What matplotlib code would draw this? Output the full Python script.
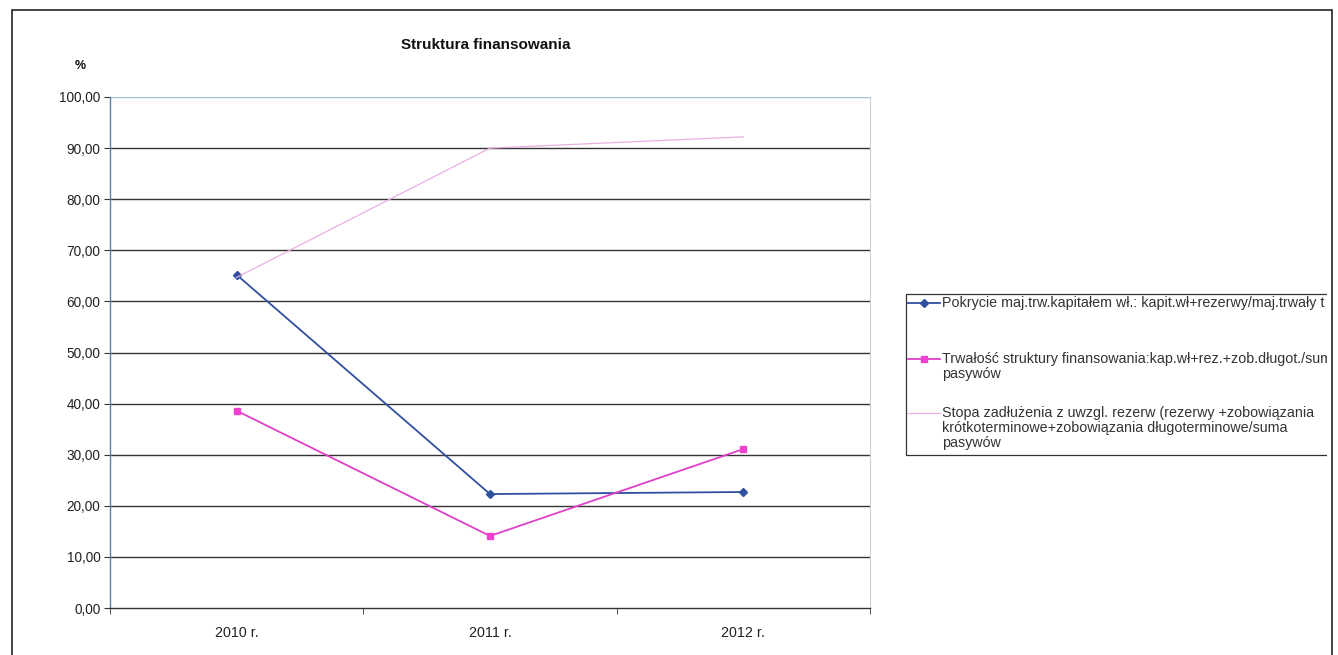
import matplotlib
matplotlib.use("Agg")
import matplotlib.pyplot as plt
from matplotlib.lines import Line2D
from matplotlib.patches import Rectangle
from matplotlib.transforms import Bbox, TransformedBbox

plt.rcParams['font.family'] = ['Liberation Sans', 'DejaVu Sans']

years = ["2010 r.", "2011 r.", "2012 r."]
pokrycie = [65.2, 22.3, 22.7]
trwalosc = [38.6, 14.1, 31.1]
stopa = [64.7, 90.0, 92.2]

labels = [
    "Pokrycie maj.trw.kapitałem wł.: kapit.wł+rezerwy/maj.trwały t",
    "Trwałość struktury finansowania:kap.wł+rez.+zob.długot./suma\npasywów",
    "Stopa zadłużenia z uwzgl. rezerw (rezerwy +zobowiązania\n"
    "krótkoterminowe+zobowiązania długoterminowe/suma\npasywów",
]
y_ticks = [0, 10, 20, 30, 40, 50, 60, 70, 80, 90, 100]

W, H = 1338, 655
fig = plt.figure(figsize=(W / 100, H / 100), dpi=100)
ax = fig.add_axes([110 / W, 1 - 608 / H, 760 / W, 511 / H])

line_styles = [
    dict(color="#2f4f9f", lw=1.3),
    dict(color="#e040c8", lw=1.3),
    dict(color="#eab0e4", lw=0.9),
]
marker_styles = [
    dict(marker="D", ms=4, mfc="#2f4f9f", mec="#2f4f9f"),
    dict(marker="s", ms=5, mfc="#f040d0", mec="#f040d0"),
    None,
]

x = list(range(len(years)))
for series, ls, ms in zip([pokrycie, trwalosc, stopa], line_styles, marker_styles):
    ax.plot(x, series, **ls, **(ms or {}))

ax.set_xlim(-0.5, 2.5)
ax.set_ylim(0, 100)
ax.set_yticks(y_ticks)
ax.set_yticklabels([f"{v:.2f}".replace(".", ",") for v in y_ticks],
                   fontsize=9.8, color="#222222")
ax.set_xticks(x)
ax.set_xticklabels(years, fontsize=10.3, color="#222222")
ax.set_xticks([-0.5, 0.5, 1.5, 2.5], minor=True)
ax.tick_params(axis="x", which="major", length=0, pad=13)
ax.tick_params(axis="x", which="minor", length=4, color="#333333")
ax.tick_params(axis="y", length=4, color="#333333", pad=3)

for v in y_ticks[1:-1]:
    ax.axhline(v, color="#333333", lw=1.0, zorder=0)
ax.axhline(100, color="#9ec4e0", lw=1.0, zorder=0)

ax.spines["top"].set_visible(False)
ax.spines["right"].set_color("#d0d0d0")
ax.spines["right"].set_linewidth(0.8)
ax.spines["left"].set_color("#5a80b0")
ax.spines["left"].set_linewidth(1.0)
ax.spines["bottom"].set_color("#333333")
ax.spines["bottom"].set_linewidth(1.0)

fig.text(486 / W, 1 - 45 / H, "Struktura finansowania", ha="center",
         va="center", fontsize=11, fontweight="bold", color="#111111")
fig.text(80 / W, 1 - 66 / H, "%", ha="center", va="center",
         fontsize=9, fontweight="bold", color="#111111")

# outer chart frame
frame = Rectangle((12 / W, -0.02), 1320 / W, 1 - 10 / H + 0.02,
                  transform=fig.transFigure, fill=False, ec="#222222", lw=1.2)
fig.patches.append(frame)

# legend box to the right of the plot, clipped at the chart frame
clip = TransformedBbox(Bbox([[0, 0], [1327 / W, 1]]), fig.transFigure)
box = Rectangle((906 / W, 1 - 455 / H), 440 / W, 161 / H,
                transform=fig.transFigure, fill=False, ec="#333333", lw=0.9)
box.set_clip_box(clip)
fig.patches.append(box)

entry_y = [303, 359, 413]
for lab, ls, ms, ey in zip(labels, line_styles, marker_styles, entry_y):
    yf = 1 - ey / H
    fig.lines.append(Line2D([908 / W, 940 / W], [yf, yf],
                            transform=fig.transFigure, **ls))
    if ms:
        fig.lines.append(Line2D([924 / W], [yf], transform=fig.transFigure,
                                linestyle="none", **ms))
    t = fig.text(942 / W, yf + 7 / H, lab, ha="left", va="top", fontsize=10.3,
                 color="#333333", linespacing=1.1)
    t.set_clip_box(clip)
    t.set_clip_on(True)

fig.savefig("out.png", dpi=100)
